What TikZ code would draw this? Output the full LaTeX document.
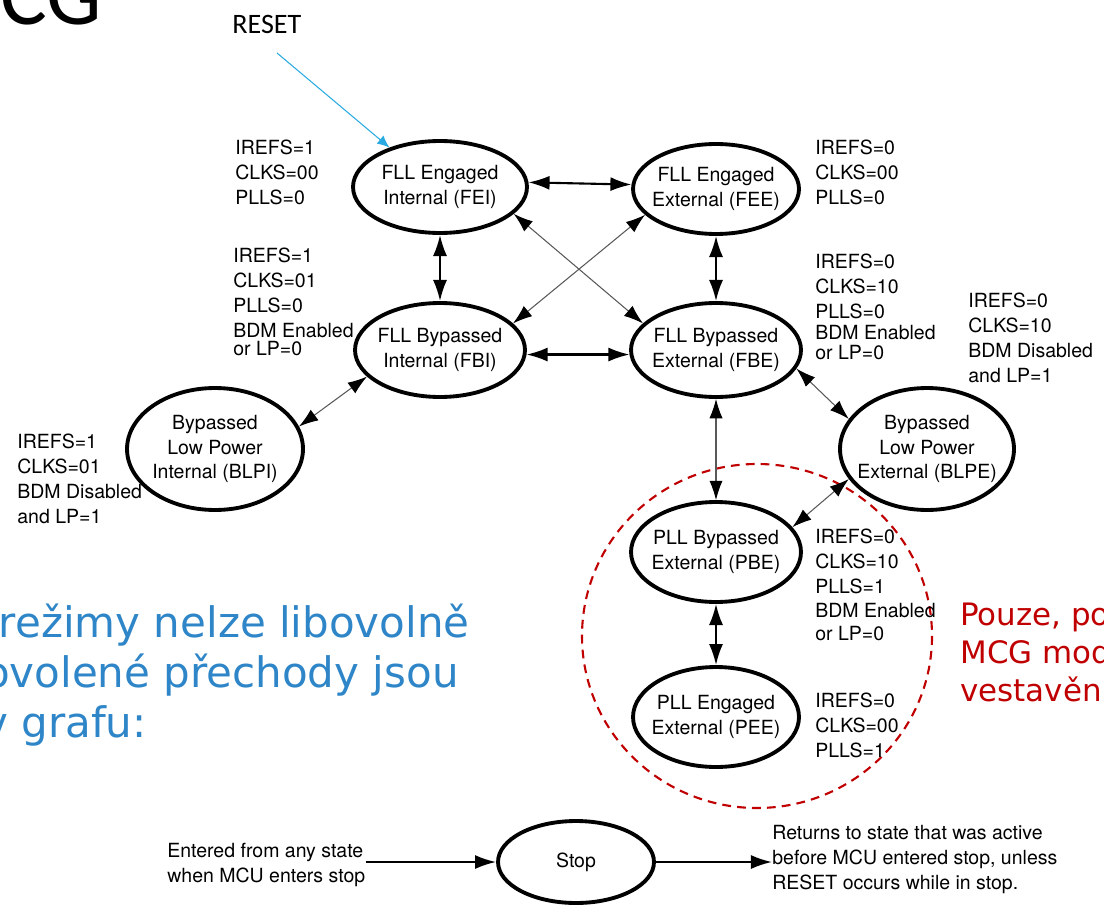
\documentclass[tikz,border=0pt]{standalone}
\usepackage{fontspec}
\setmainfont{TeX Gyre Heros}
\newfontfamily\verd{DejaVu Sans}
\newfontfamily\calib{Carlito}
\usetikzlibrary{shapes.geometric,arrows.meta}
\definecolor{resetblue}{RGB}{41,171,226}
\definecolor{textblue}{RGB}{46,134,200}
\definecolor{darkred}{RGB}{192,0,0}
\newcommand\labfont{\fontsize{11.1}{14.2}\selectfont}
\tikzset{
  bigtip/.tip={Latex[length=12pt,width=8pt,color=black]},
  midtip/.tip={Latex[length=11pt,width=7.5pt,color=black]},
  state/.style={ellipse, draw, line width=2.2pt, inner sep=0pt},
  stxt/.style={font=\labfont, align=center, inner sep=0pt},
  cond/.style={anchor=north west, font=\labfont, align=left, inner sep=0pt},
  link/.style={line width=1.2pt, {bigtip}-{bigtip}},
  thinlink/.style={line width=0.6pt, draw=black!65, {midtip}-{midtip}},
  oneway/.style={line width=1.2pt, -{bigtip}},
  bluetxt/.style={font=\verd\fontsize{23.9}{28.5}\selectfont, text=textblue, inner sep=0pt, anchor=base east},
  redtxt/.style={font=\verd\fontsize{17.6}{21.6}\selectfont, text=darkred, inner sep=0pt, anchor=base west},
}
\begin{document}
\begin{tikzpicture}[x=0.02cm,y=-0.02cm]
\useasboundingbox (0,0) rectangle (1104,905);
\clip (0,0) rectangle (1104,905);
\fill[white] (0,0) rectangle (1104,905);

% title fragment and RESET
\node[font=\calib\fontsize{50}{60}\selectfont, inner sep=0pt, anchor=base west] (title) at (0,25) {CG};
\node[font=\calib\fontsize{16}{19}\selectfont, inner sep=0pt, anchor=base west] (reset) at (232,34) {RESET};

% red dashed region
\draw[darkred, line width=1.2pt, dash pattern=on 5pt off 3.5pt] (757,636) ellipse [x radius=175, y radius=172];

% states
\node[state, minimum width=3.48cm, minimum height=1.84cm] (FEI) at (440,187) {};
\node[stxt] (FEIt) at (FEI) {FLL Engaged\\Internal (FEI)};
\node[state, minimum width=3.32cm, minimum height=1.80cm] (FEE) at (716,189) {};
\node[stxt] (FEEt) at (FEE) {FLL Engaged\\External (FEE)};
\node[state, minimum width=3.40cm, minimum height=1.88cm] (FBI) at (440,350) {};
\node[stxt] (FBIt) at (FBI) {FLL Bypassed\\Internal (FBI)};
\node[state, minimum width=3.40cm, minimum height=1.88cm] (FBE) at (716,350) {};
\node[stxt] (FBEt) at (FBE) {FLL Bypassed\\External (FBE)};
\node[state, minimum width=3.52cm, minimum height=2.44cm] (BLPI) at (215,449) {};
\node[stxt] (BLPIt) at (BLPI) {Bypassed\\Low Power\\Internal (BLPI)};
\node[state, minimum width=3.48cm, minimum height=2.44cm] (BLPE) at (927,449) {};
\node[stxt] (BLPEt) at (BLPE) {Bypassed\\Low Power\\External (BLPE)};
\node[state, minimum width=3.40cm, minimum height=2.00cm] (PBE) at (716,552) {};
\node[stxt] (PBEt) at (PBE) {PLL Bypassed\\External (PBE)};
\node[state, minimum width=3.32cm, minimum height=2.00cm] (PEE) at (716,717) {};
\node[stxt] (PEEt) at (PEE) {PLL Engaged\\External (PEE)};
\node[state, minimum width=3.12cm, minimum height=1.64cm] (stop) at (576,862) {};
\node[stxt] (stopt) at (stop) {Stop};

% conditions
\node[cond] (feil) at (235,140) {IREFS=1\\CLKS=00\\PLLS=0};
\node[cond] (fbil) at (233,248) {IREFS=1\\CLKS=01\\PLLS=0\\BDM Enabled\\[-4pt]or LP=0};
\node[cond] (feel) at (815,140) {IREFS=0\\CLKS=00\\PLLS=0};
\node[cond] (fbel) at (815,254) {IREFS=0\\CLKS=10\\PLLS=0\\[-2.5pt]BDM Enabled\\[-3pt]or LP=0};
\node[cond] (blpel) at (968,293) {IREFS=0\\CLKS=10\\BDM Disabled\\and LP=1};
\node[cond] (blpil) at (17,434) {IREFS=1\\CLKS=01\\BDM Disabled\\and LP=1};
\node[cond] (pbel) at (815,529) {IREFS=0\\CLKS=10\\PLLS=1\\[-1pt]BDM Enabled\\[-1pt]or LP=0};
\node[cond] (peel) at (815,693) {IREFS=0\\CLKS=00\\PLLS=1};
\node[cond] (entered) at (167,843) {Entered from any state\\when MCU enters stop};
\node[cond] (returns) at (772,825) {Returns to state that was active\\before MCU entered stop, unless\\RESET occurs while in stop.};

% transitions
\draw[link] (FEI.3) -- (FEE.177);
\draw[link] (FEI) -- (FBI);
\draw[link] (FEE) -- (FBE);
\draw[link] (FBI.-3) -- (FBE.183);
\draw[thinlink] (FEI.-20) -- (FBE.160);
\draw[thinlink] (FBI.20) -- (FEE.200);
\draw[thinlink] (BLPI.15) -- (FBI.200);
\draw[thinlink] (FBE.-13) -- (BLPE.159);
\draw[thinlink] (FBE) -- (PBE);
\draw[thinlink] (BLPE.201) -- (PBE.18);
\draw[link] (PBE) -- (PEE);
\draw[oneway] (entered.east |- stop.west) -- (stop.west);
\draw[oneway] (stop.east) -- (stop.east -| returns.west);

% reset arrow
\coordinate (rs) at (277,53);
\draw[line width=0.6pt, resetblue, -{Latex[length=7pt,width=6pt]}] (rs) -- (FEI.142);

% slide texts
\node[bluetxt] (b1) at (470,637) {režimy nelze libovolně};
\node[bluetxt] (b2) at (459,687) {ovolené přechody jsou};
\node[bluetxt] (b3) at (147,737) {v grafu:};
\node[redtxt] (r1) at (960,625) {Pouze, po};
\node[redtxt] (r2) at (960,663) {MCG mod};
\node[redtxt] (r3) at (960,701) {vestavěn};
\end{tikzpicture}
\end{document}
